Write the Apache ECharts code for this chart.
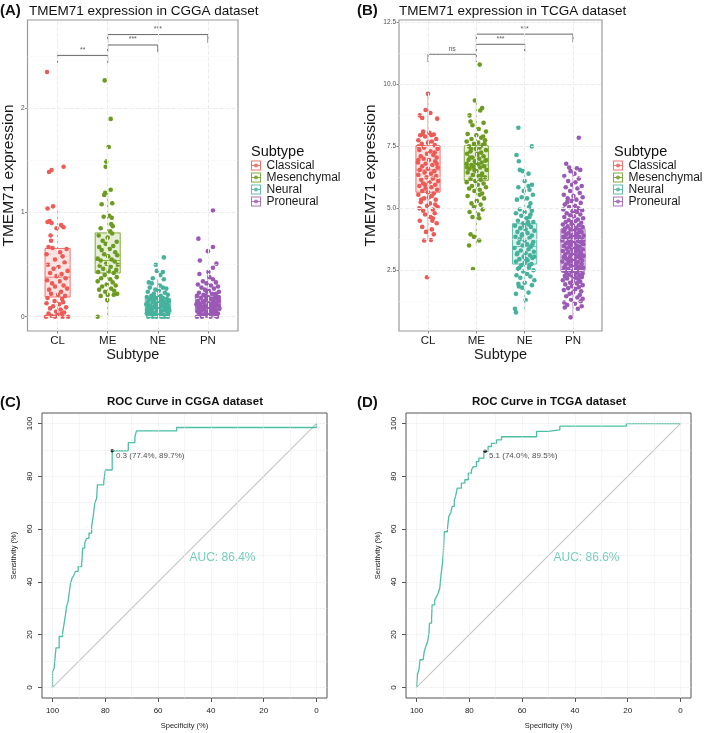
<!DOCTYPE html>
<html><head><meta charset="utf-8">
<script src="https://cdn.jsdelivr.net/npm/echarts@6/dist/echarts.min.js"></script>
<style>html,body{margin:0;padding:0;background:#fff}#c{width:709px;height:733px}</style>
</head><body><div id="c"></div>
<script>
// ---------- DATA ----------
const subtypes = ['CL', 'ME', 'NE', 'PN'];
const subtypeNames = ['Classical', 'Mesenchymal', 'Neural', 'Proneural'];
const colors = ['#EE5A55', '#6C9B1F', '#45B29D', '#9B59B6'];
const fills = ['rgba(238,90,85,0.2)', 'rgba(108,155,31,0.2)', 'rgba(69,178,157,0.2)', 'rgba(155,89,182,0.2)'];

// box stats: [lower whisker, Q1, median, Q3, upper whisker]
const cggaBox = [[0, 0.19, 0.38, 0.655, 1.06], [0, 0.42, 0.54, 0.805, 1.21], [0, 0.05, 0.1, 0.176, 0.36], [0, 0.058, 0.11, 0.198, 0.42]];
const tcgaBox = [[3.72, 5.65, 6.55, 7.53, 9.62], [3.5, 6.13, 6.75, 7.52, 9.38], [0.83, 2.75, 3.46, 4.38, 6.5], [0.66, 2.47, 3.3, 4.17, 6.5]];

// jittered points: [jitter offset, value]
const cggaCL = [[-0.21,2.35],[-0.17,1.39],[-0.12,1.41],[0.12,1.44],[-0.09,1.06],[-0.2,1.04],[-0.16,0.92],[-0.2,0.91],[0.07,0.88],[-0.12,0.9],[0.12,0.86],[-0.02,0.85],[-0.14,0.78],[-0.13,0.73],[-0.18,0.67],[-0.1,0.66],[0.18,0.65],[0.05,0.62],[-0.22,0.6],[0.1,0.58],[-0.05,0.55],[0.14,0.52],[-0.19,0.5],[0.02,0.48],[-0.08,0.46],[0.2,0.44],[-0.15,0.42],[0.08,0.41],[-0.02,0.39],[0.16,0.37],[-0.21,0.35],[0.04,0.34],[-0.11,0.32],[0.12,0.3],[-0.05,0.29],[0.19,0.27],[-0.17,0.26],[0.07,0.24],[-0.13,0.22],[0.01,0.21],[0.15,0.2],[-0.2,0.18],[0.09,0.17],[-0.06,0.15],[0.11,0.14],[-0.22,0.13],[0.03,0.12],[-0.09,0.1],[0.17,0.09],[-0.15,0.08],[0.06,0.07],[-0.03,0.05],[0.13,0.04],[-0.18,0.03],[0.0,0.02],[-0.23,0.0],[-0.05,0.0],[0.1,0.0],[0.21,0.0],[-0.12,0.01],[0.08,0.03]];
const cggaME = [[-0.06,2.27],[0.06,1.9],[0.02,1.63],[-0.03,1.49],[-0.04,1.44],[0.06,1.22],[-0.05,1.19],[-0.07,1.17],[0.09,1.09],[-0.12,1.08],[-0.08,0.96],[0.03,0.97],[0.08,0.95],[0.07,0.89],[0.1,0.87],[-0.14,0.85],[0.05,0.82],[0.09,0.8],[-0.18,0.78],[0.0,0.76],[-0.1,0.73],[0.18,0.72],[-0.04,0.7],[0.11,0.68],[-0.17,0.67],[0.04,0.65],[-0.12,0.64],[0.15,0.62],[-0.07,0.6],[0.19,0.59],[0.01,0.58],[-0.2,0.56],[0.08,0.55],[-0.14,0.54],[0.14,0.53],[-0.03,0.51],[0.2,0.5],[-0.16,0.49],[0.06,0.48],[-0.09,0.46],[0.17,0.45],[0.02,0.44],[-0.19,0.43],[0.12,0.42],[-0.06,0.4],[0.18,0.38],[-0.13,0.37],[0.05,0.36],[-0.2,0.34],[0.1,0.33],[-0.02,0.31],[0.16,0.3],[-0.11,0.29],[0.07,0.27],[-0.17,0.26],[0.13,0.25],[-0.05,0.24],[0.19,0.22],[0.0,0.21],[0.12,0.21],[-0.14,0.2],[-0.01,0.16],[-0.2,0.0]];
const cggaNE = [[0.12,0.57],[-0.04,0.5],[-0.02,0.44],[0.1,0.43],[0.05,0.4],[-0.1,0.37],[0.12,0.36],[-0.18,0.33],[-0.12,0.32],[0.04,0.3],[0.1,0.28],[-0.16,0.28],[0.17,0.27],[-0.05,0.26],[0.02,0.25],[-0.2,0.24],[0.14,0.23],[-0.08,0.22],[0.2,0.21],[-0.13,0.2],[0.06,0.2],[-0.22,0.19],[0.1,0.18],[-0.02,0.18],[0.18,0.17],[-0.15,0.17],[0.03,0.16],[-0.07,0.16],[0.22,0.15],[-0.19,0.15],[0.12,0.14],[-0.1,0.14],[0.0,0.13],[0.16,0.13],[-0.23,0.12],[0.07,0.12],[-0.04,0.11],[0.2,0.11],[-0.14,0.1],[0.1,0.1],[-0.08,0.09],[0.03,0.09],[0.22,0.08],[-0.2,0.08],[0.14,0.07],[-0.12,0.07],[-0.01,0.06],[0.08,0.06],[-0.17,0.05],[0.18,0.05],[-0.05,0.04],[0.05,0.04],[0.21,0.03],[-0.22,0.03],[0.11,0.02],[-0.09,0.02],[0.0,0.01],[0.16,0.01],[-0.15,0.01],[0.07,0.0],[-0.03,0.0],[0.2,0.0],[-0.19,0.0],[0.13,0.0],[-0.1,0.0],[0.04,0.19],[-0.06,0.13],[0.15,0.09],[-0.16,0.11],[0.09,0.15],[-0.21,0.06],[0.01,0.07],[0.19,0.12],[-0.11,0.04],[0.06,0.02],[-0.02,0.08],[0.23,0.06],[-0.07,0.19],[0.12,0.11],[-0.18,0.02]];
const cggaPN = [[0.1,1.02],[-0.19,0.75],[0.1,0.67],[0.0,0.63],[-0.16,0.54],[0.17,0.51],[0.1,0.47],[0.01,0.43],[-0.17,0.41],[0.03,0.38],[0.1,0.36],[-0.1,0.34],[0.16,0.33],[-0.03,0.32],[-0.2,0.31],[0.06,0.3],[0.2,0.29],[-0.13,0.28],[0.12,0.27],[-0.06,0.26],[0.02,0.25],[0.22,0.24],[-0.18,0.23],[0.08,0.22],[-0.09,0.21],[0.15,0.2],[-0.22,0.2],[0.0,0.19],[0.18,0.18],[-0.14,0.18],[0.06,0.17],[-0.04,0.16],[0.22,0.15],[-0.2,0.15],[0.11,0.14],[-0.11,0.14],[0.02,0.13],[0.17,0.13],[-0.23,0.12],[0.07,0.12],[-0.06,0.11],[0.2,0.11],[-0.15,0.1],[0.13,0.1],[-0.01,0.09],[0.09,0.09],[-0.19,0.08],[0.23,0.08],[-0.08,0.07],[0.04,0.07],[0.16,0.06],[-0.13,0.06],[0.0,0.05],[-0.21,0.05],[0.12,0.04],[-0.04,0.04],[0.2,0.03],[-0.17,0.03],[0.07,0.02],[-0.1,0.02],[0.15,0.01],[-0.02,0.01],[-0.22,0.0],[0.05,0.0],[0.18,0.0],[-0.12,0.0],[0.1,0.16],[-0.16,0.12],[0.03,0.1],[0.21,0.19],[-0.07,0.15],[0.14,0.08],[-0.2,0.1],[0.08,0.05],[-0.05,0.2],[0.19,0.14],[-0.1,0.09],[0.01,0.03],[0.12,0.17],[-0.18,0.06],[0.06,0.11],[-0.02,0.24],[0.16,0.22],[-0.14,0.02]];

const tcgaCL = [[0.0,9.62],[-0.05,8.97],[-0.17,8.75],[0.05,8.85],[0.19,8.62],[-0.12,8.65],[-0.1,8.1],[0.03,8.05],[-0.16,7.95],[0.12,7.98],[-0.06,7.9],[0.17,7.8],[-0.2,7.75],[0.08,7.7],[0.0,7.65],[-0.13,7.6],[0.14,7.55],[-0.08,7.45],[0.2,7.4],[-0.18,7.35],[0.05,7.3],[-0.02,7.2],[0.11,7.15],[-0.15,7.1],[0.18,7.05],[-0.09,7.0],[0.02,6.95],[0.15,6.9],[-0.21,6.85],[-0.05,6.8],[0.09,6.75],[-0.12,6.7],[0.2,6.65],[0.0,6.6],[-0.17,6.55],[0.13,6.5],[-0.07,6.45],[0.06,6.4],[-0.2,6.35],[0.17,6.3],[-0.03,6.25],[0.1,6.2],[-0.14,6.15],[0.21,6.1],[0.03,6.05],[-0.1,6.0],[0.15,5.95],[-0.18,5.9],[0.07,5.85],[-0.05,5.8],[0.19,5.75],[-0.12,5.7],[0.0,5.65],[0.12,5.6],[-0.2,5.55],[0.08,5.5],[-0.08,5.4],[0.16,5.35],[-0.15,5.25],[0.04,5.2],[-0.02,5.1],[0.2,5.05],[-0.18,5.0],[0.1,4.95],[-0.1,4.9],[0.14,4.8],[-0.06,4.75],[0.05,4.65],[-0.17,4.5],[0.18,4.4],[-0.12,4.25],[0.08,4.15],[-0.04,4.05],[0.12,3.95],[-0.08,3.7],[0.06,3.72],[-0.02,2.22],[0.1,4.6],[-0.2,6.95],[0.07,7.95],[-0.11,8.0],[0.14,7.25],[-0.06,5.95],[0.18,6.8],[-0.14,5.35],[0.02,5.45],[0.09,4.5],[-0.19,7.5],[0.15,5.15]];
const tcgaME = [[0.07,10.8],[-0.03,9.35],[0.12,9.05],[0.08,8.95],[-0.14,8.75],[-0.12,8.5],[0.15,8.45],[-0.08,8.35],[0.05,8.2],[0.2,8.1],[-0.18,8.0],[0.0,7.95],[0.1,7.85],[-0.1,7.8],[0.18,7.75],[-0.2,7.7],[0.04,7.65],[-0.05,7.6],[0.13,7.55],[-0.15,7.5],[0.07,7.45],[-0.01,7.4],[0.2,7.35],[-0.12,7.3],[0.1,7.25],[-0.19,7.2],[0.02,7.15],[0.15,7.1],[-0.08,7.05],[0.06,7.0],[-0.16,6.95],[0.19,6.92],[-0.03,6.9],[0.11,6.85],[-0.2,6.8],[0.03,6.78],[-0.1,6.75],[0.16,6.7],[-0.06,6.68],[0.08,6.65],[-0.14,6.6],[0.21,6.55],[0.0,6.5],[-0.18,6.45],[0.12,6.4],[-0.07,6.35],[0.05,6.3],[0.18,6.25],[-0.12,6.2],[0.09,6.15],[-0.02,6.1],[-0.2,6.05],[0.15,6.0],[0.03,5.95],[-0.09,5.9],[0.2,5.85],[-0.15,5.8],[0.07,5.75],[-0.04,5.7],[0.12,5.6],[-0.18,5.5],[0.16,5.4],[0.01,5.3],[-0.1,5.2],[0.09,5.15],[-0.05,5.05],[0.13,4.95],[-0.14,4.85],[0.04,4.75],[-0.08,4.65],[0.06,4.6],[-0.12,3.95],[-0.05,3.85],[0.06,3.7],[-0.15,3.5],[-0.07,2.55],[0.14,7.9],[-0.11,7.4],[0.2,6.95],[-0.04,6.55],[0.1,6.3],[-0.19,6.65],[0.02,7.2],[0.17,7.6],[-0.13,7.05],[0.07,5.55],[-0.02,6.85]];
const tcgaNE = [[-0.13,8.25],[0.15,7.5],[-0.17,7.15],[-0.12,6.9],[0.08,6.4],[-0.1,6.55],[-0.04,6.5],[0.0,6.1],[0.15,5.95],[0.08,5.9],[-0.13,5.85],[0.1,5.75],[-0.02,5.7],[0.17,5.55],[-0.06,5.45],[0.05,5.4],[-0.16,5.35],[0.12,5.2],[-0.1,4.95],[0.15,4.9],[0.0,4.85],[-0.18,4.8],[-0.07,4.7],[0.1,4.65],[0.04,4.6],[-0.14,4.5],[0.18,4.45],[-0.03,4.4],[0.08,4.35],[-0.2,4.3],[0.13,4.25],[-0.09,4.2],[0.02,4.15],[0.2,4.1],[-0.15,4.05],[0.06,4.0],[-0.05,3.95],[0.15,3.9],[-0.19,3.85],[0.1,3.8],[-0.1,3.75],[0.0,3.7],[0.18,3.65],[-0.13,3.6],[0.05,3.55],[-0.04,3.5],[0.13,3.45],[-0.21,3.4],[0.08,3.35],[-0.08,3.3],[0.19,3.25],[0.02,3.2],[-0.16,3.15],[0.11,3.1],[-0.02,3.05],[0.16,3.0],[-0.11,2.95],[0.06,2.9],[-0.18,2.85],[0.0,2.8],[0.14,2.75],[-0.07,2.7],[0.09,2.6],[-0.14,2.55],[0.18,2.5],[-0.03,2.45],[0.05,2.35],[-0.17,2.3],[0.12,2.25],[-0.09,2.2],[0.2,2.1],[0.0,2.0],[-0.13,1.95],[0.15,1.9],[-0.05,1.8],[0.08,1.6],[-0.18,1.55],[0.02,1.3],[-0.12,1.85],[0.1,2.7],[-0.2,0.95],[-0.18,0.8],[0.12,4.75],[-0.06,3.9],[0.03,2.95],[0.16,3.55],[-0.15,3.2],[0.07,4.45],[-0.11,2.6],[0.2,3.05],[-0.01,4.3],[0.09,5.05]];
const tcgaPN = [[0.12,7.85],[-0.14,6.8],[-0.08,6.65],[0.08,6.62],[0.15,6.55],[-0.05,6.5],[0.03,6.4],[-0.18,6.3],[0.12,6.2],[-0.1,6.1],[0.05,6.05],[-0.02,5.95],[0.18,5.9],[-0.15,5.85],[0.09,5.8],[-0.06,5.7],[0.14,5.62],[-0.19,5.55],[0.01,5.5],[0.2,5.45],[-0.11,5.4],[0.07,5.35],[-0.03,5.3],[0.16,5.22],[-0.17,5.15],[0.04,5.1],[-0.08,5.05],[0.11,5.0],[-0.2,4.95],[0.19,4.92],[-0.01,4.88],[0.08,4.85],[-0.13,4.8],[0.15,4.75],[-0.06,4.72],[0.02,4.68],[-0.18,4.65],[0.21,4.6],[0.1,4.55],[-0.09,4.52],[0.05,4.48],[-0.15,4.45],[0.17,4.42],[-0.03,4.38],[-0.21,4.35],[0.12,4.32],[0.0,4.3],[-0.11,4.27],[0.2,4.24],[0.07,4.2],[-0.17,4.18],[-0.05,4.15],[0.14,4.12],[0.03,4.1],[-0.2,4.07],[0.18,4.04],[-0.09,4.0],[0.09,3.98],[-0.14,3.95],[0.0,3.93],[0.22,3.9],[-0.04,3.88],[0.13,3.85],[-0.18,3.83],[0.06,3.8],[-0.1,3.78],[0.19,3.75],[-0.01,3.73],[-0.22,3.7],[0.1,3.68],[-0.07,3.65],[0.16,3.63],[0.02,3.6],[-0.15,3.58],[0.21,3.55],[-0.03,3.53],[0.08,3.5],[-0.19,3.48],[0.14,3.45],[-0.08,3.43],[0.04,3.4],[-0.13,3.38],[0.2,3.35],[-0.02,3.33],[0.11,3.3],[-0.21,3.28],[0.06,3.25],[-0.1,3.23],[0.17,3.2],[0.0,3.18],[-0.16,3.15],[0.13,3.13],[-0.05,3.1],[0.22,3.08],[0.08,3.05],[-0.19,3.03],[-0.07,3.0],[0.15,2.98],[0.03,2.95],[-0.12,2.93],[0.19,2.9],[-0.02,2.88],[-0.22,2.85],[0.1,2.83],[-0.09,2.8],[0.05,2.78],[0.18,2.75],[-0.15,2.73],[0.0,2.7],[-0.05,2.68],[0.12,2.65],[-0.18,2.62],[0.21,2.6],[0.07,2.58],[-0.11,2.55],[0.02,2.52],[0.16,2.5],[-0.2,2.48],[-0.03,2.45],[0.09,2.42],[-0.14,2.4],[0.2,2.37],[0.04,2.35],[-0.08,2.32],[0.13,2.3],[-0.17,2.27],[-0.01,2.25],[0.18,2.22],[0.06,2.2],[-0.12,2.17],[0.11,2.14],[-0.21,2.1],[0.0,2.07],[0.15,2.04],[-0.06,2.0],[0.08,1.97],[-0.16,1.93],[0.2,1.9],[-0.02,1.86],[0.12,1.82],[-0.1,1.78],[0.05,1.74],[-0.19,1.7],[0.17,1.65],[0.0,1.6],[-0.07,1.55],[0.14,1.5],[-0.14,1.45],[0.09,1.4],[0.2,1.35],[-0.04,1.3],[0.16,1.25],[-0.18,1.2],[0.04,1.15],[0.18,1.05],[-0.12,1.1],[0.1,0.95],[-0.17,1.0],[-0.05,0.6],[0.02,4.9],[-0.12,5.25],[0.14,4.05],[-0.06,3.55],[0.1,3.35],[-0.16,3.0],[0.06,2.75],[-0.09,2.5],[0.18,2.3],[-0.2,3.85],[0.03,3.15],[-0.14,2.2],[0.21,3.7],[-0.02,4.45],[0.12,2.6],[-0.18,4.1],[0.07,3.92],[-0.11,3.62],[0.16,3.1],[-0.04,2.9]];

// significance brackets: [from, to, bar height, end height, label]
const cggaSig = [[1, 2, 2.51, 2.44, '**'], [2, 3, 2.61, 2.54, '***'], [2, 4, 2.71, 2.63, '***']];
const tcgaSig = [[1, 2, 11.22, 10.9, 'ns'], [2, 3, 11.62, 11.3, '***'], [2, 4, 12.03, 11.7, '***']];

// ROC step points: [specificity %, sensitivity %]
const rocCGGA = [[100,0],[100,6],[99.4,7.3],[98.7,15],[97.5,19.3],[96.2,20.6],[95.7,23.7],[95.1,27.5],[94.7,30.7],[94.1,32.6],[93.7,35.7],[93.2,39.5],[92.6,41.4],[91.9,42.6],[91.3,44],[90.3,45.8],[89,46.4],[88.6,52.8],[87.8,54.7],[87.1,56.5],[86.2,58.5],[85.2,61],[84.6,64.8],[84,69.8],[83.3,71.7],[83,76.8],[80.6,78],[80,82.4],[77.4,89.7],[71.3,92.8],[68.8,95],[68.2,97.2],[53,98.5],[3,98.5],[0,100]];
const rocTCGA = [[100,0],[99.7,4.8],[99.1,6.7],[98.7,10.5],[97.5,10.5],[97.1,13.6],[96.5,15.5],[95.8,17.4],[95.3,20.6],[95.1,24.4],[94.3,26.3],[94.1,31.3],[93.1,33.2],[92.4,34.5],[91.8,35.7],[91.2,37.6],[90.8,42],[90.2,47],[89.8,52],[89.5,59],[88.3,60],[87.8,64.8],[87.1,66],[86.5,68.6],[85.7,71],[85.2,72.4],[84.6,75.5],[83,77.4],[81.7,78.7],[80.4,81.2],[79.2,82.4],[78.5,83.7],[77.3,85.6],[76.4,86.9],[74.5,89.5],[72.9,91.3],[71.6,92.5],[69.7,93.8],[67.8,95],[54.5,97],[50.1,97.6],[45.7,99],[20.5,100],[0,100]];
const thresholdCGGA = [0.3, 77.4, 89.7];
const thresholdTCGA = [5.1, 74.0, 89.5];
const aucCGGA = 86.4;
const aucTCGA = 86.6;
const rocTicks = [0, 20, 40, 60, 80, 100];
const rocGrid = [0, 10, 20, 30, 40, 50, 60, 70, 80, 90, 100];

// ---------- CHART ----------
const FONT = '"Liberation Sans", Arial, Helvetica, sans-serif';
const chart = echarts.init(document.getElementById('c'));
const CLEAR = 'rgba(0,0,0,0)';

const grids = [
  { left: 27, top: 20, width: 211, height: 311 },
  { left: 399, top: 20, width: 203, height: 311 },
  { left: 42, top: 413, width: 285, height: 285 },
  { left: 406, top: 413, width: 285, height: 285 }
].map((g, i) => Object.assign(g, {
  show: true, backgroundColor: '#fff',
  borderColor: i < 2 ? '#9a9a9a' : '#555', borderWidth: i < 2 ? 1.2 : 1
}));

function boxX(gi) {
  return {
    type: 'value', gridIndex: gi, min: 0.4, max: 4.6,
    name: 'Subtype', nameLocation: 'middle', nameGap: 14,
    nameTextStyle: { fontFamily: FONT, fontSize: 14.5, color: '#1a1a1a' },
    axisLine: { show: false, onZero: false }, splitLine: { show: false },
    axisTick: { show: true, customValues: [1, 2, 3, 4], length: 2.5, lineStyle: { color: '#888' } },
    axisLabel: { customValues: [1, 2, 3, 4], margin: 4, fontFamily: FONT, fontSize: 11.5, color: '#1a1a1a',
      formatter: v => subtypes[Math.round(v) - 1] }
  };
}
function boxY(gi, min, max, ticks, gap, fmt) {
  return {
    type: 'value', gridIndex: gi, min: min, max: max,
    name: 'TMEM71 expression', nameLocation: 'middle', nameGap: gap,
    nameTextStyle: { fontFamily: FONT, fontSize: 15.5, color: '#1a1a1a' },
    axisLine: { show: false, onZero: false }, splitLine: { show: false },
    axisTick: { show: true, customValues: ticks, length: 2.5, lineStyle: { color: '#888' } },
    axisLabel: { customValues: ticks, margin: 3, fontFamily: FONT, fontSize: 6.5, color: '#4d4d4d', formatter: fmt }
  };
}
function rocX(gi) {
  return {
    type: 'value', gridIndex: gi, min: -4, max: 104, inverse: true,
    name: 'Specificity (%)', nameLocation: 'middle', nameGap: 24,
    nameTextStyle: { fontFamily: FONT, fontSize: 7.5, color: '#222' },
    axisLine: { show: false, onZero: false }, splitLine: { show: false },
    axisTick: { show: true, customValues: rocTicks, length: 4, lineStyle: { color: '#555' } },
    axisLabel: { customValues: rocTicks, margin: 9, fontFamily: FONT, fontSize: 8, color: '#222' }
  };
}
function rocY(gi) {
  return {
    type: 'value', gridIndex: gi, min: -4, max: 104,
    name: 'Sensitivity (%)', nameLocation: 'middle', nameGap: 24,
    nameTextStyle: { fontFamily: FONT, fontSize: 7.5, color: '#222' },
    axisLine: { show: false, onZero: false }, splitLine: { show: false },
    axisTick: { show: true, customValues: rocTicks, length: 4, lineStyle: { color: '#555' } },
    axisLabel: { customValues: rocTicks, margin: 8, rotate: 90, fontFamily: FONT, fontSize: 8, color: '#222' }
  };
}

const series = [];

function boxPanel(gi, boxes, groups, sig, yMajor, yMinor) {
  const ml = [];
  [1, 2, 3, 4].forEach(v => ml.push({ xAxis: v, lineStyle: { color: '#ebebeb', width: 1 } }));
  yMajor.forEach(v => ml.push({ yAxis: v, lineStyle: { color: '#ebebeb', width: 1 } }));
  yMinor.forEach(v => ml.push({ yAxis: v, lineStyle: { color: '#f3f3f3', width: 0.6 } }));
  series.push({
    type: 'line', xAxisIndex: gi, yAxisIndex: gi, data: [], z: 1, silent: true,
    markLine: { silent: true, symbol: 'none', label: { show: false }, animation: false, data: ml }
  });
  series.push({
    type: 'custom', xAxisIndex: gi, yAxisIndex: gi, z: 2, silent: true,
    data: boxes.map((b, i) => [i + 1].concat(b)),
    encode: { x: 0, y: [1, 2, 3, 4, 5] },
    renderItem: function (params, api) {
      const x = api.value(0);
      const lo = api.coord([x, api.value(1)]);
      const q1 = api.coord([x, api.value(2)]);
      const md = api.coord([x, api.value(3)]);
      const q3 = api.coord([x, api.value(4)]);
      const hi = api.coord([x, api.value(5)]);
      const w = api.size([0.5, 0])[0];
      const i = params.dataIndex;
      const st = { stroke: colors[i], lineWidth: 1, opacity: 0.75 };
      return { type: 'group', children: [
        { type: 'line', shape: { x1: lo[0], y1: lo[1], x2: q1[0], y2: q1[1] }, style: st },
        { type: 'line', shape: { x1: q3[0], y1: q3[1], x2: hi[0], y2: hi[1] }, style: st },
        { type: 'rect', shape: { x: q3[0] - w / 2, y: q3[1], width: w, height: q1[1] - q3[1] },
          style: { fill: fills[i], stroke: colors[i], lineWidth: 1, opacity: 0.85 } },
        { type: 'line', shape: { x1: md[0] - w / 2, y1: md[1], x2: md[0] + w / 2, y2: md[1] }, style: st }
      ] };
    }
  });
  groups.forEach((pts, i) => {
    series.push({
      type: 'scatter', name: subtypeNames[i], xAxisIndex: gi, yAxisIndex: gi, z: 3,
      symbolSize: 4.6, itemStyle: { color: colors[i], opacity: 1 },
      data: pts.map(p => [i + 1 + p[0], p[1]])
    });
  });
  sig.forEach(s => {
    series.push({
      type: 'line', xAxisIndex: gi, yAxisIndex: gi, z: 4, silent: true, showSymbol: false,
      lineStyle: { color: '#666', width: 1 },
      data: [[s[0], s[3]], [s[0], s[2]], [s[1], s[2]], [s[1], s[3]]]
    });
    series.push({
      type: 'scatter', xAxisIndex: gi, yAxisIndex: gi, z: 4, silent: true,
      symbolSize: 1, itemStyle: { color: CLEAR },
      label: { show: true, position: 'top', distance: 1.5, formatter: s[4], fontFamily: FONT, fontSize: 7, color: '#333' },
      data: [[(s[0] + s[1]) / 2, s[2]]]
    });
  });
}

function rocPanel(gi, roc, thr, auc) {
  const ml = [];
  rocGrid.forEach(v => {
    ml.push({ xAxis: v });
    ml.push({ yAxis: v });
  });
  series.push({
    type: 'line', xAxisIndex: gi, yAxisIndex: gi, data: [], z: 1, silent: true,
    markLine: { silent: true, symbol: 'none', label: { show: false }, animation: false,
      lineStyle: { color: '#e6e6e6', width: 0.8, type: 'dotted' }, data: ml }
  });
  series.push({
    type: 'line', xAxisIndex: gi, yAxisIndex: gi, z: 2, silent: true, showSymbol: false,
    lineStyle: { color: '#c4c4c4', width: 1.1, type: 'solid' }, data: [[100, 0], [0, 100]]
  });
  const stairs = [];
  roc.forEach((p, k) => {
    if (k > 0) stairs.push([p[0], roc[k - 1][1]]);
    stairs.push(p);
  });
  series.push({
    type: 'line', xAxisIndex: gi, yAxisIndex: gi, z: 3, silent: true, showSymbol: false,
    lineStyle: { color: '#4DBFA6', width: 1.3 }, data: stairs
  });
  series.push({
    type: 'scatter', xAxisIndex: gi, yAxisIndex: gi, z: 4, silent: true,
    symbolSize: 3.5, itemStyle: { color: '#000' },
    label: { show: true, position: 'right', distance: 2, offset: [0, 5],
      formatter: thr[0].toFixed(1) + ' (' + thr[1].toFixed(1) + '%, ' + thr[2].toFixed(1) + '%)',
      fontFamily: FONT, fontSize: 8, color: '#222' },
    data: [[thr[1], thr[2]]]
  });
  series.push({
    type: 'scatter', xAxisIndex: gi, yAxisIndex: gi, z: 4, silent: true,
    symbolSize: 1, itemStyle: { color: CLEAR },
    label: { show: true, position: 'right', distance: 0, formatter: 'AUC: ' + auc.toFixed(1) + '%',
      fontFamily: FONT, fontSize: 12, color: '#4DBFA6' },
    data: [[48.3, 49]]
  });
}

boxPanel(0, cggaBox, [cggaCL, cggaME, cggaNE, cggaPN], cggaSig, [0, 1, 2], [0.5, 1.5, 2.5]);
boxPanel(1, tcgaBox, [tcgaCL, tcgaME, tcgaNE, tcgaPN], tcgaSig, [2.5, 5, 7.5, 10, 12.5], [1.25, 3.75, 6.25, 8.75, 11.25]);
rocPanel(2, rocCGGA, thresholdCGGA, aucCGGA);
rocPanel(3, rocTCGA, thresholdTCGA, aucTCGA);

const legendIcon = 'path://M0,0H20V20H0Z M2,2V18H18V2Z M2,9H18V11H2Z M14,10A4,4,0,1,1,6,10A4,4,0,1,1,14,10Z';
function legend(left) {
  return {
    orient: 'vertical', left: left, top: 159.5, itemWidth: 11, itemHeight: 10, itemGap: 0,
    selectedMode: false, padding: 0,
    textStyle: { fontFamily: FONT, fontSize: 12, color: '#1a1a1a', lineHeight: 12 },
    data: subtypeNames.map((n, i) => ({ name: n, icon: legendIcon, itemStyle: { color: colors[i], opacity: 0.85 } }))
  };
}

const titleStyle = (size, weight) => ({ fontFamily: FONT, fontSize: size, fontWeight: weight, color: '#111' });
chart.setOption({
  animation: false,
  backgroundColor: '#fff',
  grid: grids,
  xAxis: [boxX(0), boxX(1), rocX(2), rocX(3)],
  yAxis: [
    boxY(0, -0.137, 2.85, [0, 1, 2], 4.5, v => String(v)),
    boxY(1, 0.05, 12.6, [2.5, 5, 7.5, 10, 12.5], 20, v => v.toFixed(1)),
    rocY(2), rocY(3)
  ],
  title: [
    { text: '(A)', left: 0, top: 3, padding: 0, textStyle: titleStyle(15, 'bold') },
    { text: 'TMEM71 expression in CGGA dataset', left: 29, top: 4, padding: 0, textStyle: titleStyle(13.5, 'normal') },
    { text: '(B)', left: 357, top: 3, padding: 0, textStyle: titleStyle(15, 'bold') },
    { text: 'TMEM71 expression in TCGA dataset', left: 399, top: 4, padding: 0, textStyle: titleStyle(13.5, 'normal') },
    { text: 'Subtype', left: 251, top: 144, padding: 0, textStyle: titleStyle(14.5, 'normal') },
    { text: 'Subtype', left: 614, top: 144, padding: 0, textStyle: titleStyle(14.5, 'normal') },
    { text: '(C)', left: 0, top: 395, padding: 0, textStyle: titleStyle(15, 'bold') },
    { text: 'ROC Curve in CGGA dataset', left: 185, textAlign: 'center', top: 396, padding: 0, textStyle: titleStyle(11.5, 'bold') },
    { text: '(D)', left: 357, top: 395, padding: 0, textStyle: titleStyle(15, 'bold') },
    { text: 'ROC Curve in TCGA dataset', left: 549, textAlign: 'center', top: 396, padding: 0, textStyle: titleStyle(11.5, 'bold') }
  ],
  legend: [legend(251), legend(613)],
  series: series
});
</script>
</body></html>
